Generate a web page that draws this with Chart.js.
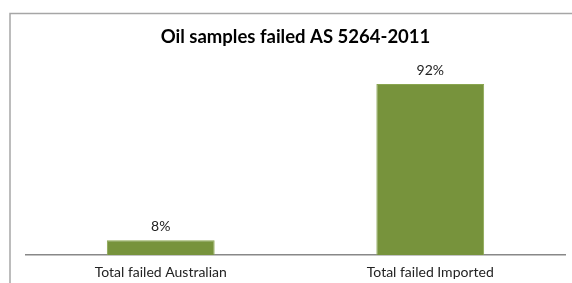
<!DOCTYPE html>
<html>
<head>
<meta charset="utf-8">
<script src="https://cdn.jsdelivr.net/npm/chart.js@4"></script>
<style>
  body { margin: 0; background: #fff; }
  #wrap { width: 572px; height: 283px; position: relative; }
</style>
</head>
<body>
<div id="wrap"><canvas id="oilChart"></canvas></div>
<script>
const categories = ['Total failed Australian', 'Total failed Imported'];
const failedPct = [8, 92];
const valueLabels = ['8%', '92%'];

// frame line like the spreadsheet chart border (top + left only visible)
const framePlugin = {
    id: 'frame',
    beforeDraw(chart) {
        const c = chart.ctx;
        c.save();
        c.strokeStyle = '#a6a6a6';
        c.lineWidth = 1.5;
        c.beginPath();
        c.moveTo(10, 283);
        c.lineTo(10, 13.5);
        c.lineTo(572, 13.5);
        c.stroke();
        c.restore();
    }
};

const valueLabelPlugin = {
    id: 'valueLabels',
    afterDatasetsDraw(chart) {
        const c = chart.ctx;
        const meta = chart.getDatasetMeta(0);
        c.save();
        c.font = '14px Lato, "Liberation Sans", sans-serif';
        c.fillStyle = '#222';
        c.textAlign = 'center';
        c.textBaseline = 'middle';
        meta.data.forEach(function(bar, i) {
            c.fillText(valueLabels[i], bar.x, bar.y - 14);
        });
        c.restore();
    }
};

document.addEventListener('DOMContentLoaded', function() {
    const ctx = document.getElementById('oilChart').getContext('2d');
    new Chart(ctx, {
        type: 'bar',
        data: {
            labels: categories,
            datasets: [{
                data: failedPct,
                backgroundColor: '#77933c',
                borderColor: '#8aa650',
                borderWidth: 1,
                barPercentage: 0.4,
                categoryPercentage: 1.0
            }]
        },
        options: {
            responsive: true,
            maintainAspectRatio: false,
            animation: false,
            layout: {
                padding: { top: 26, left: 26, right: 7, bottom: 4 }
            },
            plugins: {
                legend: { display: false },
                tooltip: { enabled: false },
                title: {
                    display: true,
                    text: 'Oil samples failed AS 5264-2011',
                    color: '#000',
                    font: { family: 'Lato, "Liberation Sans", sans-serif', size: 18.5, weight: 'bold' },
                    padding: { top: 0, bottom: 21 }
                }
            },
            scales: {
                y: {
                    display: false,
                    min: 0,
                    max: 100
                },
                x: {
                    grid: { display: false, drawTicks: false },
                    border: { display: true, color: '#888', width: 1.5 },
                    ticks: {
                        color: '#222',
                        padding: 9,
                        font: { family: 'Lato, "Liberation Sans", sans-serif', size: 14 }
                    },
                    afterFit(scale) {
                        scale.height = 24;
                    }
                }
            }
        },
        plugins: [framePlugin, valueLabelPlugin]
    });
});
</script>
</body>
</html>
